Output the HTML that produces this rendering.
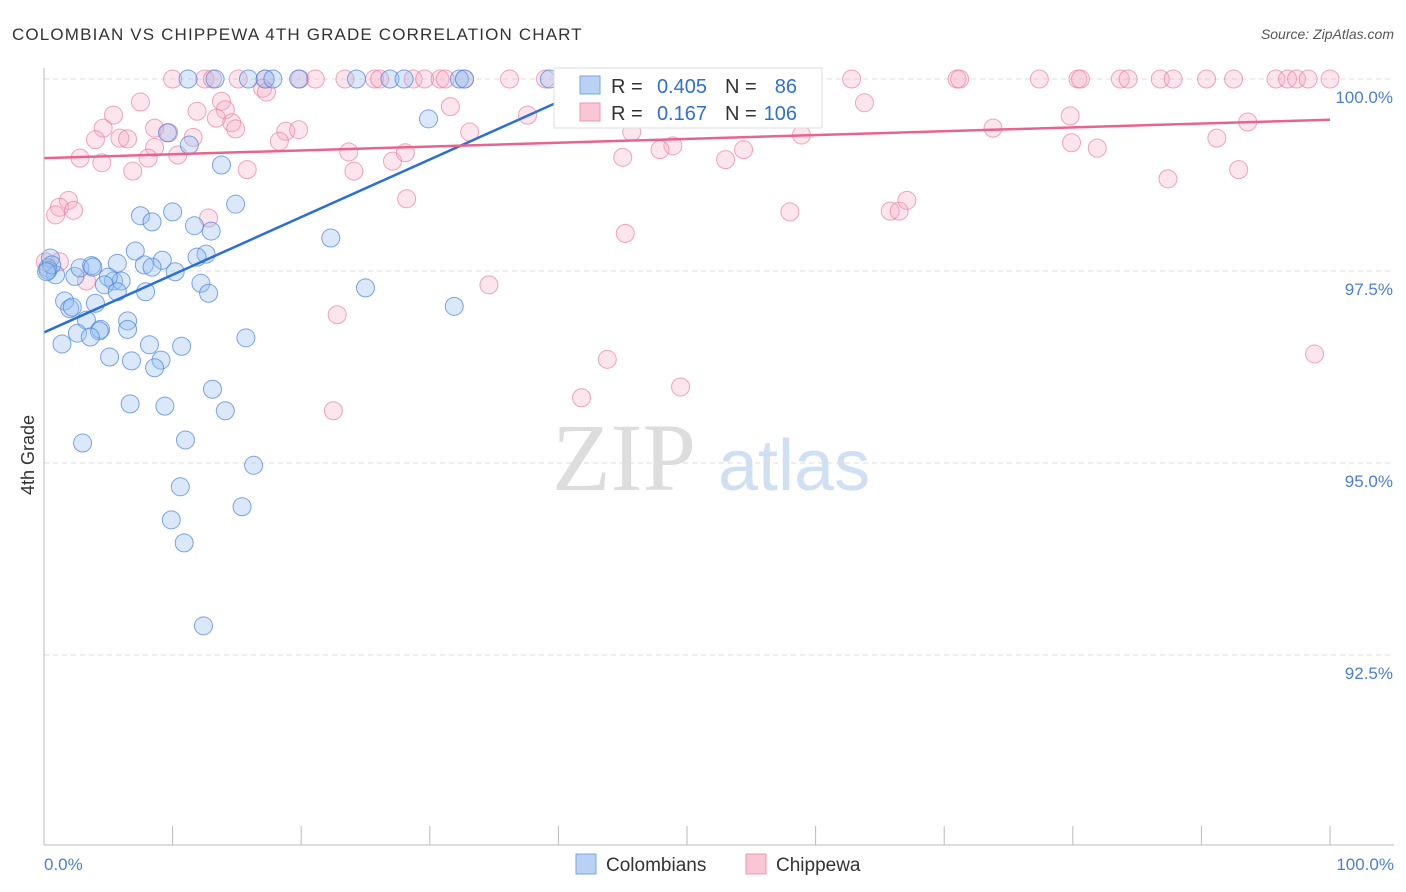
<!DOCTYPE html>
<html><head><meta charset="utf-8"><style>
body{margin:0;background:#fff;font-family:"Liberation Sans",sans-serif;}
svg{display:block}
</style></head><body>
<svg id="chart" width="1406" height="892">
<text x="12" y="40" font-size="17" fill="#333" letter-spacing="1.15">COLOMBIAN VS CHIPPEWA 4TH GRADE CORRELATION CHART</text>
<text x="1394" y="39" font-size="14" fill="#555" font-style="italic" text-anchor="end">Source: ZipAtlas.com</text>
<text transform="translate(34,455) rotate(-90)" font-size="18" fill="#333" text-anchor="middle">4th Grade</text>
<g><text x="552" y="490" font-size="96" fill="#ddd" font-family="Liberation Serif,serif">ZIP</text><text x="718" y="490" font-size="72" fill="#cfe0f5">atlas</text></g>
<g id="grid"></g><g id="pts"></g><g id="lines"></g>
<line x1="44" y1="68" x2="44" y2="845" stroke="#bbb"/>
<line x1="44" y1="845" x2="1394" y2="845" stroke="#bbb"/>
<text x="44" y="870" font-size="17" fill="#4a7fd6">0.0%</text>
<text x="1394" y="870" font-size="17" fill="#4a7fd6" text-anchor="end">100.0%</text>
<g>
<rect x="554" y="68" width="268" height="60" fill="#fff" stroke="#ddd"/>
<rect x="580" y="76" width="20" height="18" fill="#b9d1f3" stroke="#7aa5e6"/>
<rect x="580" y="103" width="20" height="18" fill="#f9c6d5" stroke="#ee94ad"/>
<text x="611" y="93" font-size="20" fill="#333">R =</text>
<text x="707" y="93" font-size="20" fill="#2f6fd3" text-anchor="end">0.405</text>
<text x="725" y="93" font-size="20" fill="#333">N =</text>
<text x="797" y="93" font-size="20" fill="#2f6fd3" text-anchor="end">86</text>
<text x="611" y="120" font-size="20" fill="#333">R =</text>
<text x="707" y="120" font-size="20" fill="#2f6fd3" text-anchor="end">0.167</text>
<text x="725" y="120" font-size="20" fill="#333">N =</text>
<text x="797" y="120" font-size="20" fill="#2f6fd3" text-anchor="end">106</text>
</g>
<g>
<rect x="576" y="854" width="20" height="20" fill="#b9d1f3" stroke="#7aa5e6"/>
<text x="606" y="871" font-size="19" fill="#333">Colombians</text>
<rect x="746" y="854" width="20" height="20" fill="#f9c6d5" stroke="#ee94ad"/>
<text x="776" y="871" font-size="19" fill="#333">Chippewa</text>
</g>
</svg>
<script>
const yTicks=[100,97.5,95,92.5];
const yTickLabels=["100.0%","97.5%","95.0%","92.5%"];
const xTicks=[0,10,20,30,40,50,60,70,80,90,100];
const blueX=[11.2,13.3,15.9,17.2,17.8,19.8,24.3,26.9,28.0,32.3,32.7,39.3,29.9,9.6,11.3,13.8,14.9,7.5,10.0,8.4,11.7,13.0,22.3,7.1,12.6,11.9,5.7,9.2,7.8,8.4,10.2,0.5,0.3,0.9,2.4,2.8,3.7,3.8,5.4,6.0,5.0,4.7,5.7,7.9,12.2,12.8,25.0,31.9,1.6,2.0,4.0,2.2,3.3,6.5,4.4,4.3,6.5,2.6,3.6,15.7,1.4,8.2,10.7,5.1,6.8,9.1,8.6,13.1,6.7,9.4,14.1,3.0,11.0,16.3,10.6,15.4,9.9,10.9,12.4,0.3,0.6,0.2];
const blueY=[100,100,100,100,100,100,100,100,100,100,100,100,99.48,99.30,99.14,98.88,98.37,98.22,98.27,98.14,98.09,98.02,97.93,97.76,97.72,97.68,97.60,97.64,97.58,97.55,97.49,97.67,97.54,97.45,97.43,97.54,97.57,97.55,97.37,97.37,97.42,97.32,97.23,97.23,97.34,97.21,97.28,97.04,97.11,97.01,97.08,97.03,96.86,96.85,96.74,96.72,96.74,96.69,96.64,96.63,96.55,96.54,96.52,96.38,96.33,96.34,96.24,95.96,95.77,95.74,95.68,95.26,95.30,94.97,94.69,94.43,94.26,93.96,92.88,97.51,97.58,97.49];
const pinkX=[10.0,12.5,13.1,15.1,17.2,19.9,21.1,23.4,25.7,26.1,28.7,29.6,30.8,31.2,32.7,36.2,39.0,42.5,46.3,51.8,55.9,62.8,71.0,71.2,77.4,80.4,80.6,83.7,84.3,86.8,87.8,90.4,92.5,95.8,96.7,97.4,98.3,100,
17.0,17.3,7.5,13.8,5.4,11.9,14.1,4.6,8.6,9.7,14.6,14.9,13.4,4.0,5.9,6.5,8.6,11.6,31.6,37.6,63.8,18.8,19.8,33.1,45.7,58.9,73.8,79.8,93.6,91.2,79.9,81.9,48.9,47.9,54.4,45.0,53.0,8.1,10.4,2.8,4.5,6.9,15.8,18.3,23.7,27.1,28.1,24.1,87.4,92.9,1.9,1.2,2.3,0.9,28.2,12.8,58.0,65.8,66.5,67.1,45.2,0.1,1.2,3.3,34.6,22.8,43.8,98.8,49.5,41.8,22.5];
const pinkY=[100,100,100,100,100,100,100,100,100,100,100,100,100,100,100,100,100,100,100,100,100,100,100,100,100,100,100,100,100,100,100,100,100,100,100,100,100,100,
99.88,99.83,99.70,99.71,99.53,99.58,99.60,99.36,99.36,99.30,99.43,99.35,99.49,99.21,99.23,99.22,99.11,99.24,99.64,99.53,99.69,99.32,99.34,99.31,99.31,99.27,99.36,99.52,99.44,99.23,99.17,99.10,99.13,99.08,99.08,98.98,98.95,98.97,99.01,98.97,98.91,98.80,98.82,99.19,99.05,98.93,99.04,98.80,98.70,98.82,98.42,98.33,98.29,98.23,98.44,98.19,98.27,98.28,98.28,98.42,97.99,97.62,97.62,97.37,97.32,96.93,96.35,96.42,95.99,95.85,95.68];
const blueTrend=[[0,96.70],[40.9,99.77]];
const pinkTrend=[[0,98.97],[100,99.47]];
const NS="http://www.w3.org/2000/svg";
const sx=v=>44+v*12.86, sy=v=>79+(100-v)*76.8;
function mk(tag,attrs,parent){const e=document.createElementNS(NS,tag);for(const k in attrs)e.setAttribute(k,attrs[k]);parent.appendChild(e);return e;}
const grid=document.getElementById('grid');
yTicks.forEach((t,i)=>{
 const l=mk('line',{x1:44,x2:1394,y1:sy(t),y2:sy(t),stroke:'#ddd','stroke-dasharray':'5,4'},grid);
 
 
 const tx=mk('text',{x:1393,y:sy(t)+24,'font-size':17,fill:'#4a7fd6','text-anchor':'end'},grid);
 tx.textContent=yTickLabels[i];
 
 
});
xTicks.forEach(t=>{
 const l=mk('line',{x1:sx(t),x2:sx(t),y1:826,y2:845,stroke:'#bbb'},grid);
 
 
});
const pts=document.getElementById('pts');
pinkX.forEach((x,i)=>{
 const c=mk('circle',{cx:sx(x),cy:sy(pinkY[i]),r:9,fill:'rgba(244,170,195,0.3)',stroke:'rgba(232,120,155,0.65)','stroke-width':1},pts);
 
 
});
blueX.forEach((x,i)=>{
 const c=mk('circle',{cx:sx(x),cy:sy(blueY[i]),r:9,fill:'rgba(150,188,240,0.35)',stroke:'rgba(70,130,220,0.7)','stroke-width':1},pts);
 
 
});
const lines=document.getElementById('lines');
const bl=mk('line',{x1:sx(blueTrend[0][0]),y1:sy(blueTrend[0][1]),x2:sx(blueTrend[1][0]),y2:sy(blueTrend[1][1]),stroke:'#2a6fd6','stroke-width':2.5},lines);


const pl=mk('line',{x1:sx(pinkTrend[0][0]),y1:sy(pinkTrend[0][1]),x2:sx(pinkTrend[1][0]),y2:sy(pinkTrend[1][1]),stroke:'#e8648e','stroke-width':2.5},lines);


</script>
</body></html>
